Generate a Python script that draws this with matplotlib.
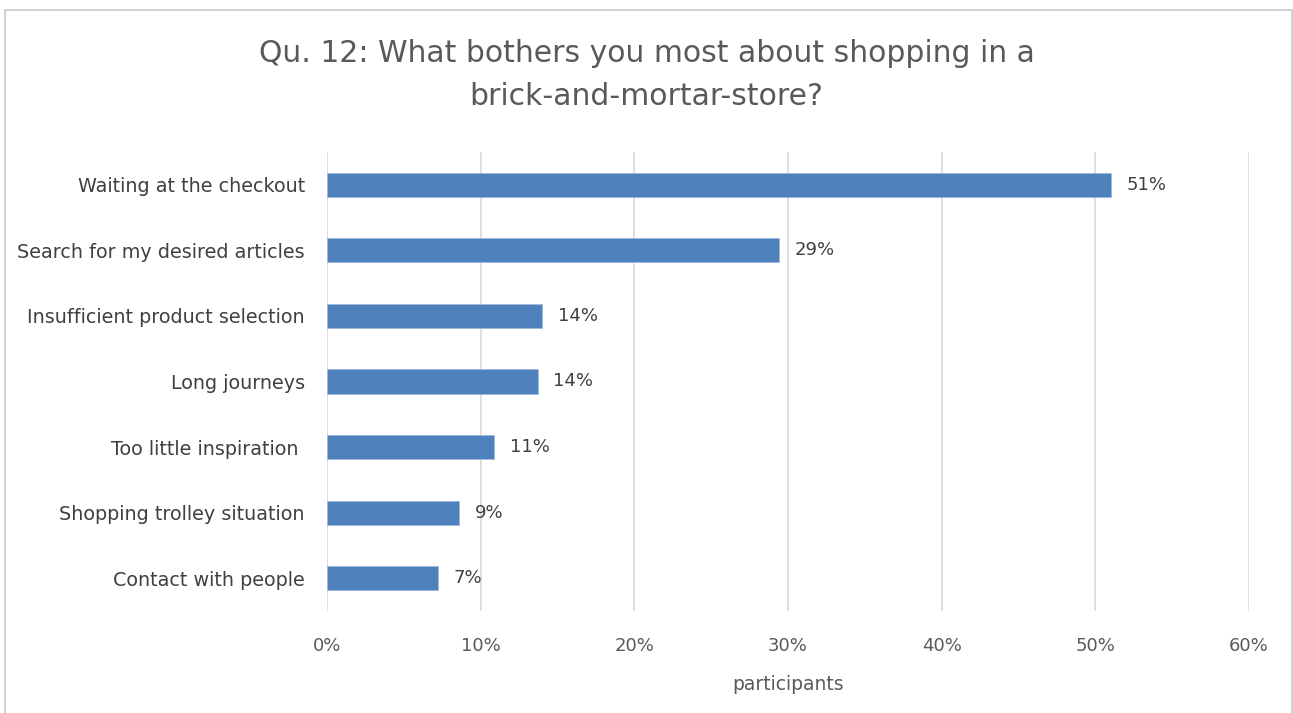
import numpy as np
import matplotlib
matplotlib.use("Agg")
import matplotlib.pyplot as plt
from matplotlib.patches import Rectangle

# survey answers, top to bottom
categories = ["Waiting at the checkout", "Search for my desired articles",
              "Insufficient product selection", "Long journeys",
              "Too little inspiration ", "Shopping trolley situation",
              "Contact with people"]
shares = [51.0, 29.4, 14.0, 13.7, 10.9, 8.6, 7.2]
xticks = [0, 10, 20, 30, 40, 50, 60]

plt.rcParams["font.family"] = ["DejaVu Sans"]
grey = "#595959"

fig = plt.figure(figsize=(12.93, 7.13), dpi=100)
ax = fig.add_axes([327 / 1293, 1 - 611 / 713, 922 / 1293, 459 / 713])

y = np.arange(len(categories))
ax.barh(y, shares, height=0.37, color="#4F81BD", edgecolor="#9DB9DC",
        linewidth=0.6, zorder=3)
for yi, v in zip(y, shares):
    ax.text(v + 1.0, yi, f"{round(v):d}%", va="center", ha="left",
            fontsize=13, color="#404040")

ax.set_ylim(len(categories) - 0.5, -0.5)
ax.set_xlim(0, 60)
ax.set_yticks(y)
ax.set_yticklabels(categories, fontsize=13.8, color="#404040")
ax.set_xticks(xticks)
ax.set_xticklabels([f"{t}%" for t in xticks], fontsize=13, color=grey)
ax.tick_params(axis="both", length=0)
ax.tick_params(axis="x", pad=19)
ax.tick_params(axis="y", pad=16)
ax.grid(axis="x", color="#D9D9D9", linewidth=1.2, zorder=0)
for s in ax.spines.values():
    s.set_visible(False)

ax.set_xlabel("participants", fontsize=13.5, color=grey, labelpad=14)

fig.text(0.5, 1 - 75 / 713,
         "Qu. 12: What bothers you most about shopping in a\nbrick-and-mortar-store?",
         ha="center", va="center", fontsize=21.5, color=grey, linespacing=1.65)

# chart frame
fig.patches.append(Rectangle((5 / 1293, -0.02), 1287 / 1293, 1 - 10 / 713 + 0.02,
                             transform=fig.transFigure, fill=False,
                             edgecolor="#C8C8C8", linewidth=1.2))

fig.savefig("out.png", dpi=100, facecolor="white")
